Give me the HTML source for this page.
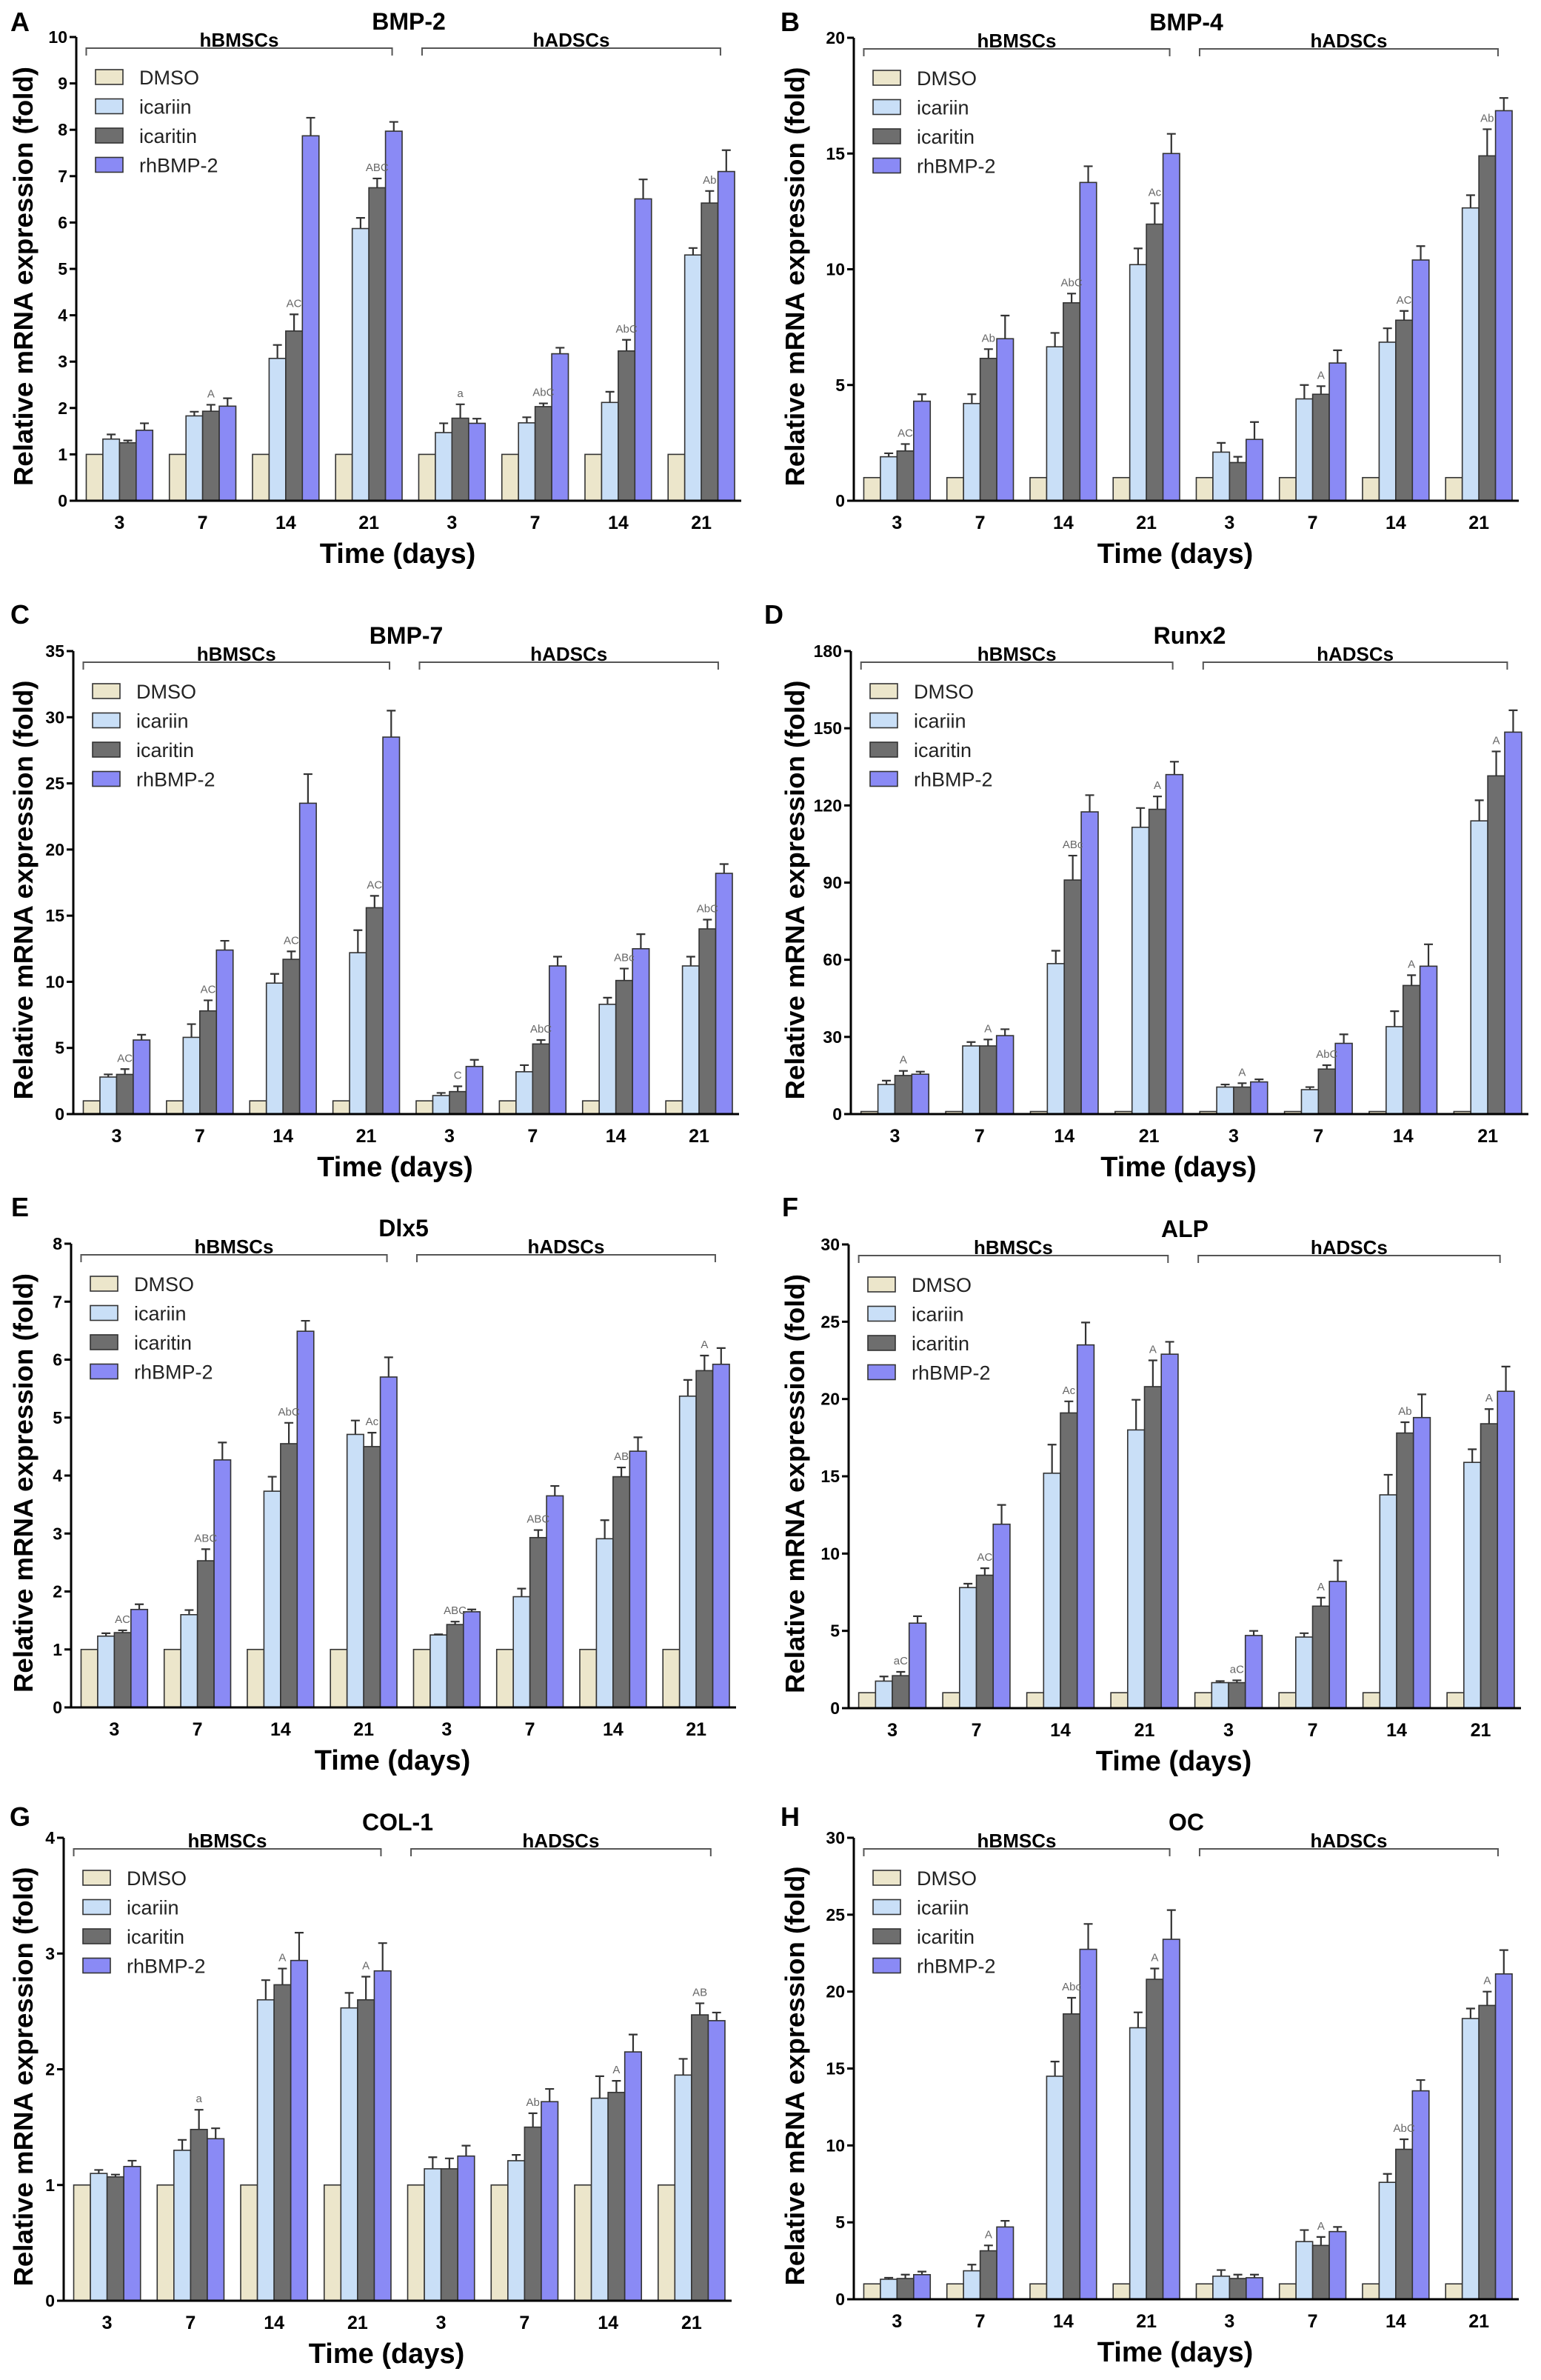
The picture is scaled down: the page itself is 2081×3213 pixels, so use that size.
<!DOCTYPE html>
<html><head><meta charset="utf-8">
<style>
html,body{margin:0;padding:0;background:#fff;}
svg{display:block;font-family:"Liberation Sans",Arial,sans-serif;}
</style></head>
<body>
<svg id="fig" width="2081" height="3213" viewBox="0 0 2081 3213" xmlns="http://www.w3.org/2000/svg">
<rect x="0" y="0" width="2081" height="3213" fill="#fff"/>
</svg>
<script>
const categories = ['3','7','14','21','3','7','14','21'];
const seriesNames = ['DMSO','icariin','icaritin','rhBMP-2'];
const dmso = [1,1,1,1,1,1,1,1];

// A BMP-2
const bmp2Icariin = [1.33,1.83,3.07,5.87,1.47,1.68,2.12,5.30];
const bmp2IcariinErr = [1.43,1.92,3.36,6.10,1.67,1.80,2.35,5.45];
const bmp2Icaritin = [1.25,1.93,3.66,6.75,1.78,2.03,3.23,6.42];
const bmp2IcaritinErr = [1.30,2.07,4.02,6.95,2.08,2.10,3.47,6.68];
const bmp2Rh = [1.52,2.04,7.87,7.97,1.67,3.17,6.51,7.10];
const bmp2RhErr = [1.67,2.21,8.26,8.17,1.77,3.30,6.93,7.56];
const bmp2Ann = ['','A','AC','ABC','a','AbC','AbC','Ab'];
const bmp2Ticks = [0,1,2,3,4,5,6,7,8,9,10];

// B BMP-4
const bmp4Icariin = [1.9,4.2,6.65,10.2,2.1,4.4,6.85,12.65];
const bmp4IcariinErr = [2.05,4.6,7.25,10.9,2.5,5.0,7.45,13.2];
const bmp4Icaritin = [2.15,6.15,8.55,11.95,1.65,4.6,7.8,14.9];
const bmp4IcaritinErr = [2.45,6.55,8.95,12.85,1.9,4.95,8.2,16.05];
const bmp4Rh = [4.3,7.0,13.75,15.0,2.65,5.95,10.4,16.85];
const bmp4RhErr = [4.6,8.0,14.45,15.85,3.4,6.5,11.0,17.4];
const bmp4Ann = ['AC','Ab','AbC','Ac','','A','AC','Ab'];
const bmp4Ticks = [0,5,10,15,20];

// C BMP-7
const bmp7Icariin = [2.8,5.8,9.9,12.2,1.4,3.2,8.3,11.2];
const bmp7IcariinErr = [3.0,6.8,10.6,13.9,1.6,3.7,8.8,11.9];
const bmp7Icaritin = [3.0,7.8,11.7,15.6,1.7,5.3,10.1,14.0];
const bmp7IcaritinErr = [3.4,8.6,12.3,16.5,2.1,5.6,11.0,14.7];
const bmp7Rh = [5.6,12.4,23.5,28.5,3.6,11.2,12.5,18.2];
const bmp7RhErr = [6.0,13.1,25.7,30.5,4.1,11.9,13.6,18.9];
const bmp7Ann = ['AC','AC','AC','AC','C','AbC','ABc','AbC'];
const bmp7Ticks = [0,5,10,15,20,25,30,35];

// D Runx2
const runx2Icariin = [11.5,26.5,58.5,111.5,10.5,9.5,34,114];
const runx2IcariinErr = [13,28,63.5,119,11.5,10.5,40,122];
const runx2Icaritin = [15,26.5,91,118.5,10.5,17.5,50,131.5];
const runx2IcaritinErr = [16.8,29,100.5,123.5,12,19,54,141];
const runx2Rh = [15.5,30.5,117.5,132,12.5,27.5,57.5,148.5];
const runx2RhErr = [16.5,33,124,137,13.5,31,66,157];
const runx2Ann = ['A','A','ABc','A','A','AbC','A','A'];
const runx2Ticks = [0,30,60,90,120,150,180];

// E Dlx5
const dlx5Icariin = [1.23,1.6,3.73,4.71,1.25,1.91,2.91,5.37];
const dlx5IcariinErr = [1.28,1.68,3.98,4.95,1.26,2.05,3.23,5.65];
const dlx5Icaritin = [1.29,2.53,4.55,4.50,1.43,2.93,3.98,5.81];
const dlx5IcaritinErr = [1.33,2.73,4.91,4.74,1.48,3.06,4.14,6.07];
const dlx5Rh = [1.69,4.27,6.49,5.70,1.65,3.65,4.42,5.92];
const dlx5RhErr = [1.78,4.57,6.67,6.04,1.69,3.82,4.66,6.20];
const dlx5Ann = ['AC','ABC','AbC','Ac','ABC','ABC','AB','A'];
const dlx5Ticks = [0,1,2,3,4,5,6,7,8];

// F ALP
const alpIcariin = [1.75,7.8,15.2,18.0,1.65,4.6,13.8,15.9];
const alpIcariinErr = [2.05,8.05,17.05,19.95,1.75,4.85,15.1,16.75];
const alpIcaritin = [2.1,8.6,19.1,20.8,1.65,6.6,17.8,18.4];
const alpIcaritinErr = [2.35,9.05,19.85,22.5,1.8,7.15,18.5,19.35];
const alpRh = [5.5,11.9,23.5,22.9,4.7,8.2,18.8,20.5];
const alpRhErr = [5.95,13.15,24.95,23.7,5.0,9.55,20.3,22.1];
const alpAnn = ['aC','AC','Ac','A','aC','A','Ab','A'];
const alpTicks = [0,5,10,15,20,25,30];

// G COL-1
const col1Icariin = [1.10,1.30,2.60,2.53,1.14,1.21,1.75,1.95];
const col1IcariinErr = [1.13,1.39,2.77,2.66,1.24,1.26,1.94,2.09];
const col1Icaritin = [1.07,1.48,2.73,2.60,1.14,1.50,1.80,2.47];
const col1IcaritinErr = [1.09,1.65,2.87,2.80,1.23,1.62,1.90,2.57];
const col1Rh = [1.16,1.40,2.94,2.85,1.25,1.72,2.15,2.42];
const col1RhErr = [1.21,1.49,3.18,3.09,1.34,1.83,2.30,2.49];
const col1Ann = ['','a','A','A','','Ab','A','AB'];
const col1Ticks = [0,1,2,3,4];

// H OC
const ocIcariin = [1.3,1.85,14.5,17.65,1.5,3.75,7.6,18.25];
const ocIcariinErr = [1.4,2.25,15.45,18.65,1.9,4.5,8.15,18.9];
const ocIcaritin = [1.35,3.15,18.55,20.8,1.35,3.5,9.75,19.1];
const ocIcaritinErr = [1.6,3.5,19.6,21.5,1.6,4.05,10.4,20.0];
const ocRh = [1.6,4.7,22.75,23.4,1.4,4.4,13.55,21.15];
const ocRhErr = [1.8,5.1,24.4,25.3,1.6,4.7,14.25,22.7];
const ocAnn = ['','A','Abc','A','','A','AbC','A'];
const ocTicks = [0,5,10,15,20,25,30];

const colors = ['#ece6cb','#c9dff7','#6e6e6e','#8a8af5'];
const NS = 'http://www.w3.org/2000/svg';
const svg = document.getElementById('fig');

function mk(tag, attrs, parent){
  const e = document.createElementNS(NS, tag);
  for (const k in attrs) e.setAttribute(k, attrs[k]);
  (parent||svg).appendChild(e);
  return e;
}
function txt(s, attrs, parent){
  const e = mk('text', attrs, parent);
  e.textContent = s;
  return e;
}

const panels = [
  {key:'bmp2', letter:'A', title:'BMP-2', lx:27, tx:44, yt:30, ax:103, ex:1001, y0:676, top:50, ticks:bmp2Ticks,
   s:[dmso,bmp2Icariin,bmp2Icaritin,bmp2Rh], e:[null,bmp2IcariinErr,bmp2IcaritinErr,bmp2RhErr], ann:bmp2Ann},
  {key:'bmp4', letter:'B', title:'BMP-4', lx:1067, tx:1086, yt:30, ax:1153, ex:2051, y0:676, top:51, ticks:bmp4Ticks,
   s:[dmso,bmp4Icariin,bmp4Icaritin,bmp4Rh], e:[null,bmp4IcariinErr,bmp4IcaritinErr,bmp4RhErr], ann:bmp4Ann},
  {key:'bmp7', letter:'C', title:'BMP-7', lx:27, tx:44, yt:830, ax:99, ex:998, y0:1504, top:879, ticks:bmp7Ticks,
   s:[dmso,bmp7Icariin,bmp7Icaritin,bmp7Rh], e:[null,bmp7IcariinErr,bmp7IcaritinErr,bmp7RhErr], ann:bmp7Ann},
  {key:'runx2', letter:'D', title:'Runx2', lx:1045, tx:1086, yt:830, ax:1149, ex:2064, y0:1504, top:879, ticks:runx2Ticks,
   s:[dmso,runx2Icariin,runx2Icaritin,runx2Rh], e:[null,runx2IcariinErr,runx2IcaritinErr,runx2RhErr], ann:runx2Ann},
  {key:'dlx5', letter:'E', title:'Dlx5', lx:27, tx:44, yt:1630, ax:96, ex:994, y0:2305, top:1679, ticks:dlx5Ticks,
   s:[dmso,dlx5Icariin,dlx5Icaritin,dlx5Rh], e:[null,dlx5IcariinErr,dlx5IcaritinErr,dlx5RhErr], ann:dlx5Ann},
  {key:'alp', letter:'F', title:'ALP', lx:1067, tx:1086, yt:1630, ax:1146, ex:2054, y0:2306, top:1680, ticks:alpTicks,
   s:[dmso,alpIcariin,alpIcaritin,alpRh], e:[null,alpIcariinErr,alpIcaritinErr,alpRhErr], ann:alpAnn},
  {key:'col1', letter:'G', title:'COL-1', lx:27, tx:44, yt:2453, ax:86, ex:988, y0:3106, top:2481, ticks:col1Ticks,
   s:[dmso,col1Icariin,col1Icaritin,col1Rh], e:[null,col1IcariinErr,col1IcaritinErr,col1RhErr], ann:col1Ann},
  {key:'oc', letter:'H', title:'OC', lx:1067, tx:1086, yt:2453, ax:1153, ex:2051, y0:3104, top:2481, ticks:ocTicks,
   s:[dmso,ocIcariin,ocIcaritin,ocRh], e:[null,ocIcariinErr,ocIcaritinErr,ocRhErr], ann:ocAnn}
];

panels.forEach(p => {
  const g = mk('g', {});
  
  
  const max = p.ticks[p.ticks.length-1];
  const yS = v => p.y0 - (v/max)*(p.y0 - p.top);
  const slot = (p.ex - p.ax)/8;
  const bw = slot*0.2;
  const xBar = (gi, si) => p.ax + gi*slot + slot*0.12 + si*bw;

  const L = txt(p.letter, {x:p.lx, y:p.yt+12, 'font-size':36, 'font-weight':'bold', 'text-anchor':'middle', fill:'#000'}, g);
  
  
  const T = txt(p.title, {x:(p.ax+p.ex)/2, y:p.top-10, 'font-size':32, 'font-weight':'bold', 'text-anchor':'middle', fill:'#000'}, g);
  
  

  const cy = (p.top + p.y0)/2 + 10;
  const yx = p.tx;
  const YT = txt('Relative mRNA expression (fold)', {x:yx, y:cy, transform:'rotate(-90 '+yx+' '+cy+')', 'font-size':36, 'font-weight':'bold', 'text-anchor':'middle', textLength:566, lengthAdjust:'spacingAndGlyphs', fill:'#000'}, g);
  
  

  p.ticks.forEach(t => {
    const y = yS(t);
    const tl = mk('line', {x1:p.ax-9, x2:p.ax, y1:y, y2:y, stroke:'#000', 'stroke-width':3}, g);
    
    
    const lb = txt(String(t), {x:p.ax-12, y:y+8, 'font-size':23, 'font-weight':'bold', 'text-anchor':'end', fill:'#000'}, g);
    
    
  });

  const brY = p.top + 15;
  [[0.12,3.8,'hBMSCs'],[4.16,7.75,'hADSCs']].forEach(b => {
    const x1 = p.ax + b[0]*slot, x2 = p.ax + b[1]*slot;
    const br = mk('path', {d:'M'+x1+' '+(brY+10)+' V'+brY+' H'+x2+' V'+(brY+10), fill:'none', stroke:'#555', 'stroke-width':2}, g);
    
    
    const bl = txt(b[2], {x:(x1+x2)/2, y:brY-2, 'font-size':26, 'font-weight':'bold', 'text-anchor':'middle', fill:'#000'}, g);
    
    
  });

  for (let gi = 0; gi < categories.length; gi++) {
    for (let si = 0; si < 4; si++) {
      const v = p.s[si][gi];
      const x = xBar(gi, si);
      const y = yS(v);
      const r = mk('rect', {x:x, y:y, width:bw, height:p.y0 - y, fill:colors[si], stroke:'#333', 'stroke-width':1.6}, g);
      
      
      if (p.e[si]) {
        const ey = yS(p.e[si][gi]);
        const cx = x + bw/2;
        const eb = mk('path', {d:'M'+cx+' '+y+' V'+ey+' M'+(cx-6)+' '+ey+' H'+(cx+6), stroke:'#333', 'stroke-width':2.2, fill:'none'}, g);
        
        
      }
    }
    const a = p.ann[gi];
    if (a) {
      const cx = xBar(gi, 2) + bw/2;
      const ay = yS(p.e[2][gi]) - 10;
      const at = txt(a, {x:cx, y:ay, 'font-size':15, 'text-anchor':'middle', fill:'#666'}, g);
      
      
    }
    const cxg = p.ax + gi*slot + slot*0.52;
    const xl = txt(categories[gi], {x:cxg, y:p.y0+38, 'font-size':25, 'font-weight':'bold', 'text-anchor':'middle', fill:'#000'}, g);
    
    
  }

  const axY = mk('line', {x1:p.ax, x2:p.ax, y1:p.top, y2:p.y0+1.5, stroke:'#000', 'stroke-width':3}, g);
  
  
  const axX = mk('line', {x1:p.ax-1.5, x2:p.ex, y1:p.y0, y2:p.y0, stroke:'#000', 'stroke-width':3}, g);
  
  

  const xt = txt('Time (days)', {x:(p.ax+p.ex)/2 - 15, y:p.y0+84, 'font-size':38, 'font-weight':'bold', 'text-anchor':'middle', fill:'#000'}, g);
  
  

  const lg = mk('g', {}, g);
  
  
  const lx = p.ax + 26;
  for (let si = 0; si < 4; si++) {
    const ly = p.top + 54 + si*39.5;
    const sw = mk('rect', {x:lx, y:ly-10, width:37, height:20, fill:colors[si], stroke:'#333', 'stroke-width':1.6}, lg);
    
    
    const lt = txt(seriesNames[si], {x:lx+59, y:ly+10, 'font-size':27, fill:'#222'}, lg);
    
    
  }
});
</script>
</body></html>
